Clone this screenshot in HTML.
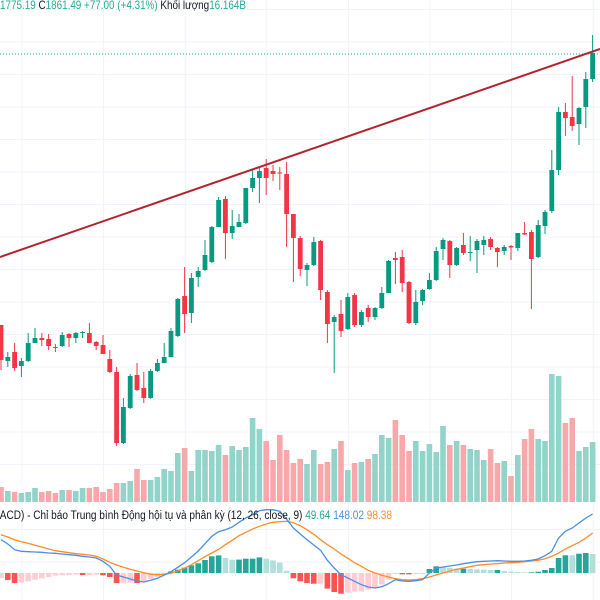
<!DOCTYPE html>
<html><head><meta charset="utf-8"><style>
html,body{margin:0;padding:0;background:#fff;}
#wrap{position:relative;width:600px;height:600px;overflow:hidden;font-family:"Liberation Sans","DejaVu Sans",sans-serif;}
svg{position:absolute;left:0;top:0;}
</style></head><body>
<div id="wrap">
<svg id="chart" width="600" height="600">
  <g id="grid"></g>
  <line x1="0" y1="54" x2="600" y2="54" stroke="#22ab94" stroke-width="1" stroke-dasharray="1,2"/>
  <g id="vol"></g>
  <g id="candles"></g>
  <line x1="0" y1="257" x2="600" y2="49" stroke="#b2232e" stroke-width="2"/>
  <g id="hist"></g>
  <path id="sigLine" fill="none" stroke="#ff8c2a" stroke-width="1.3"/>
  <path id="macdLine" fill="none" stroke="#4a8fe6" stroke-width="1.3"/>
  <text x="0" y="9" font-size="12" fill="#22ab94" textLength="246" lengthAdjust="spacingAndGlyphs">1775.19 <tspan fill="#131722">C</tspan>1861.49 +77.00 (+4.31%) <tspan fill="#131722">Khối lượng</tspan>16.164B</text>
  <text x="-12" y="519" font-size="11.5" fill="#131722" textLength="404" lengthAdjust="spacingAndGlyphs">(MACD) - Chỉ báo Trung bình Động hội tụ và phân kỳ (12, 26, close, 9) <tspan fill="#22ab94">49.64</tspan> <tspan fill="#4a8fe6">148.02</tspan> <tspan fill="#ff8c2a">98.38</tspan></text>
</svg>
</div>
<script>
const opens=[1049,941,968,926,941,995,1010,1007,983,986,1022,1010,1025,1025,998,989,947,908,695,800,899,860,830,911,935,953,1016,1136,1085,1193,1214,1238,1343,1427,1325,1343,1355,1460,1490,1520,1511,1506.5,1502,1382,1310,1214,1229,1301,1148,1058,1082,1037,1139,1049,1100,1073,1100,1145,1250,1253,1178,1055,1121,1157,1184,1277,1301,1229,1289,1265,1274,1289,1307,1280,1271,1286,1280,1325,1328,1253,1346,1391,1514,1688,1673,1652,1703,1787];
const closes=[944,953,920,941,995,1010,1004,986,980,1019,1010,1025,1028,995,986,962,908,695,803,896,854,830,911,935,953,1031,1127,1082,1190,1211,1259,1343,1424,1325,1346,1358,1460,1490,1511,1490,1502,1503.5,1382,1310,1217,1229,1298,1154,1052,1073,1031,1133,1049,1088,1073,1100,1145,1241,1244,1175,1055,1118,1154,1184,1271,1304,1229,1280,1265,1268,1301,1304,1283,1268,1283,1281.5,1325,1320.5,1247,1349,1388,1514,1688,1670,1646,1700,1787,1865];
const highs=[1049,968,995,950,1025,1040,1025,1022,992,1028,1025,1028,1031,1055,1001,1019,974,923,830,902,935,908,917,947,995,1040,1130,1223,1205,1223,1304,1346,1433,1436,1394,1382,1460,1514,1523,1547,1529,1523,1538,1382,1316,1235,1313,1304,1154,1079,1124,1145,1145,1094,1109,1103,1163,1244,1268,1274,1181,1154,1157,1205,1283,1310,1304,1283,1325,1316,1307,1316,1313,1283,1289,1289,1325,1358,1334,1364,1394,1574,1703,1715,1796,1703,1808,1919];
const lows=[914,923,911,893,938,995,986,974,968,983,983,995,1010,995,974,962,905,686,692,797,851,815,827,908,935,953,1013,1025,1055,1163,1211,1235,1343,1247,1307,1343,1352,1448,1415,1439,1481,1454,1283,1178,1196,1166,1226,1124,995,905,1013,1034,1043,1043,1058,1064,1097,1145,1172,1148,1052,1049,1109,1154,1181,1244,1190,1226,1259,1241,1205,1259,1274,1223,1259,1244,1271,1319,1097,1250,1322,1385,1499,1616,1631,1589,1640,1778];
const volumes=[15,11,10,9,10,14,10,11,9,12,12,11,14,14,15,10,13,19,19,21,33,22,22,25,33,31,49,54,31,52,52,51,57,47,56,52,55,84,73,61,42,67,52,39,43,38,52,38,40,53,61,32,39,40,43,48,67,64,82,67,51,61,51,58,50,76,57,61,57,53,52,42,53,39,41,26,47,63,73,63,61,128,126,79,84,51,55,60];
const macdVals=[33.3,29,23.3,21.7,21.3,21,20.7,20,19.7,19,18.3,17.7,16.7,16,15,11.7,6.7,-2,-4,-6,-8,-9,-7.3,-5.3,-2,1.3,5.7,10.3,16,22,29.3,36.7,41.3,43.3,46,50.7,55,58.3,62.3,63.3,63.3,61.7,54,45,39,33.3,28,22.7,12.7,5,-1.7,-5,-8.3,-11.7,-14,-15,-13.7,-10.7,-6.7,-8,-8.3,-7.7,-6.7,0,4.7,6,7,8,9.3,10.3,11.3,11.7,12,12.3,12,11.7,11.7,12,12.7,14,17.3,21.7,35,41.7,45,50,55,59];
const signalVals=[38.3,36,33.3,31.3,29.7,27.7,26,24,22.3,21.3,20.3,19.3,18.7,18,16.7,14,10.7,8,5.7,3.7,2,0.3,-1.3,-1.7,-1.3,-0.3,2.3,5,8.3,12.3,16.3,20,23.7,28.3,32.7,37.3,40.7,44,46.7,49,50.7,51.3,51.7,50.3,47.3,43.3,38.7,33.3,28.3,24,19,14.7,10.3,6.7,2.7,0,-2.3,-4,-5.7,-6.7,-7,-6.7,-5.7,-4,-2,0,2,3.7,5,6.3,7.7,8.3,9,9.3,10,10.3,10.7,11.3,12,12.7,14.3,16.7,20,24,27.3,30.7,35,40];

const NS='http://www.w3.org/2000/svg';
function xOf(i){return 1+i*6.8;}
function yPrice(p){return (2024-p)/3;}
function yVol(v){return 502-v;}
const MZ=573;
function yMacd(v){return MZ-v;}
function mk(tag,attrs,parent){const e=document.createElementNS(NS,tag);for(const k in attrs)e.setAttribute(k,attrs[k]);parent.appendChild(e);return e;}

const grid=document.getElementById('grid');
for(let k=0;k<8;k++){const gx=22+k*81.6;const l=mk('line',{x1:gx,y1:0,x2:gx,y2:600,stroke:'#f0f3fa','stroke-width':1},grid);

}
for(let k=0;k<18;k++){const gy=9.5+k*32.5;const l=mk('line',{x1:0,y1:gy,x2:600,y2:gy,stroke:'#f0f3fa','stroke-width':1},grid);

}

const vg=document.getElementById('vol'),cg=document.getElementById('candles'),hg=document.getElementById('hist');
for(let i=0;i<opens.length;i++){
  const up=closes[i]>=opens[i];const x=xOf(i);
  const vb=mk('rect',{x:x-2.8,y:yVol(volumes[i]),width:5.6,height:volumes[i],fill:up?'#92d4ca':'#f8a8ab'},vg);
  
  
  const col=up?'#089981':'#f23645';
  const w=mk('line',{x1:x,x2:x,y1:yPrice(highs[i]),y2:yPrice(lows[i]),stroke:col,'stroke-width':1},cg);
  
  
  const yt=yPrice(Math.max(opens[i],closes[i])),yb=yPrice(Math.min(opens[i],closes[i]));
  const b=mk('rect',{x:x-2.4,y:yt,width:4.8,height:Math.max(1,yb-yt),fill:col},cg);
  
  
  const h=macdVals[i]-signalVals[i];const hp=i>0?macdVals[i-1]-signalVals[i-1]:h;
  let hc;if(h>=0)hc=h>=hp?'#26a69a':'#b2dfdb';else hc=h<hp?'#ff5252':'#ffcdd2';
  const hb=mk('rect',{x:x-2.8,y:Math.min(yMacd(h),MZ),width:5.6,height:Math.max(0.5,Math.abs(h)),fill:hc},hg);
  
  
}
function path(arr){return arr.map((v,i)=>(i?'L':'M')+xOf(i).toFixed(1)+','+yMacd(v).toFixed(1)).join('');}
document.getElementById('macdLine').setAttribute('d',path(macdVals));
document.getElementById('sigLine').setAttribute('d',path(signalVals));
</script>
</body></html>
